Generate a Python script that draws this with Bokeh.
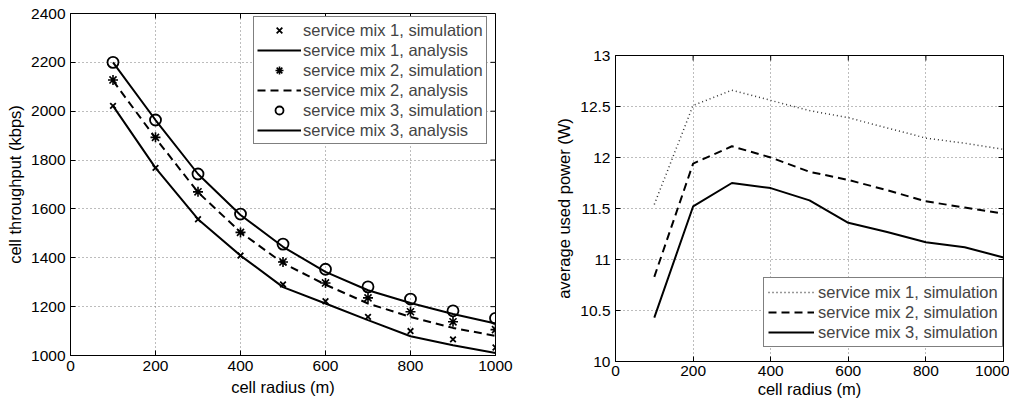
import math
from bokeh.plotting import figure
from bokeh.models import Legend, LegendItem, FixedTicker, Range1d, Spacer
from bokeh.layouts import row, column
from bokeh.embed import file_html
from bokeh.resources import INLINE

# ---------------- data ----------------
radius = [100, 200, 300, 400, 500, 600, 700, 800, 900, 1000]

# left panel: cell throughput (kbps)
sim_mix1 = [2022, 1768, 1558, 1409, 1291, 1222, 1158, 1100, 1066, 1033]
ana_mix1 = [2022, 1768, 1558, 1409, 1280, 1213, 1145, 1079, 1042, 1010]
sim_mix2 = [2128, 1893, 1670, 1504, 1383, 1297, 1236, 1179, 1138, 1106]
ana_mix2 = [2125, 1890, 1668, 1505, 1378, 1290, 1213, 1158, 1113, 1080]
sim_mix3 = [2200, 1964, 1743, 1579, 1456, 1353, 1281, 1231, 1183, 1152]
ana_mix3 = [2200, 1964, 1743, 1575, 1445, 1342, 1267, 1215, 1170, 1131]

# right panel: average used power (W)
pow_mix1 = [11.54, 12.51, 12.66, 12.56, 12.46, 12.39, 12.29, 12.19, 12.14, 12.08]
pow_mix2 = [10.83, 11.94, 12.11, 12.00, 11.86, 11.78, 11.68, 11.57, 11.51, 11.45]
pow_mix3 = [10.43, 11.52, 11.75, 11.70, 11.58, 11.36, 11.27, 11.17, 11.12, 11.02]

x_ticks = [0, 200, 400, 600, 800, 1000]
y_ticks_left = [1000, 1200, 1400, 1600, 1800, 2000, 2200, 2400]
y_ticks_right = [10, 10.5, 11, 11.5, 12, 12.5, 13]

legend_left = ["service mix 1, simulation", "service mix 1, analysis",
               "service mix 2, simulation", "service mix 2, analysis",
               "service mix 3, simulation", "service mix 3, analysis"]
legend_right = ["service mix 1, simulation", "service mix 2, simulation",
                "service mix 3, simulation"]

FONT = "Liberation Sans"
TICK_FS = "15.5px"
LABEL_FS = "16.5px"


def style(p, xt, yt, xlabel, ylabel, xstand=5, xlabstand=4):
    p.outline_line_color = "black"
    p.outline_line_width = 1
    p.background_fill_color = "white"
    p.border_fill_color = "white"
    for g in (p.xgrid[0], p.ygrid[0]):
        g.grid_line_color = "#7a7a7a"
        g.grid_line_dash = "1 3"
        g.grid_line_width = 1
    p.xgrid[0].ticker = FixedTicker(ticks=xt)
    p.ygrid[0].ticker = FixedTicker(ticks=yt)
    for ax, ticks, lab in ((p.xaxis[0], xt, xlabel), (p.yaxis[0], yt, ylabel)):
        ax.ticker = FixedTicker(ticks=ticks)
        ax.axis_label = lab
        ax.axis_label_text_font = FONT
        ax.axis_label_text_font_size = LABEL_FS
        ax.axis_label_text_font_style = "normal"
        ax.axis_label_text_color = "black"
        ax.major_label_text_font = FONT
        ax.major_label_text_font_size = TICK_FS
        ax.major_label_text_color = "black"
        ax.axis_line_color = "black"
        ax.major_tick_line_color = "black"
        ax.major_tick_in = 5
        ax.major_tick_out = 0
        ax.minor_tick_line_color = None
        ax.major_label_standoff = 5
        ax.axis_label_standoff = 4
    p.xaxis[0].major_label_standoff = xstand
    p.xaxis[0].axis_label_standoff = xlabstand
    # box ticks on the top and right edges (half of each dash is clipped by the frame)
    xmax = xt[-1]
    ymax = yt[-1]
    p.scatter(xt, [ymax] * len(xt), marker="dash", angle=math.pi / 2, size=10,
              line_color="black", line_width=1)
    p.scatter([xmax] * len(yt), yt, marker="dash", size=10,
              line_color="black", line_width=1)


# ---------------- left figure ----------------
p1 = figure(width=540, height=398, output_backend="svg", toolbar_location=None,
            x_range=Range1d(0, 1000), y_range=Range1d(1000, 2400),
            min_border_left=70, min_border_right=45, min_border_top=13, min_border_bottom=43)
style(p1, x_ticks, y_ticks_left, "cell radius (m)", "cell throughput (kbps)")

r_s1 = p1.scatter(radius, sim_mix1, marker="x", size=8, line_color="black", line_width=1.8)
r_a1 = p1.line(radius, ana_mix1, line_color="black", line_width=2)
r_s2 = p1.scatter(radius, sim_mix2, marker="asterisk", size=10, line_color="black", line_width=1.6)
r_a2 = p1.line(radius, ana_mix2, line_color="black", line_width=2, line_dash="8 5")
r_s3 = p1.scatter(radius, sim_mix3, marker="circle", size=11, line_color="black",
                  fill_color=None, line_width=1.8)
r_a3 = p1.line(radius, ana_mix3, line_color="black", line_width=2)

leg1 = Legend(items=[LegendItem(label=legend_left[i], renderers=[r])
                     for i, r in enumerate([r_s1, r_a1, r_s2, r_a2, r_s3, r_a3])],
              location=(183, 211), margin=0, padding=3, spacing=0,
              label_height=20, glyph_height=20, glyph_width=44, label_standoff=2,
              label_text_font=FONT, label_text_font_size=LABEL_FS,
              border_line_color="black", border_line_width=1,
              background_fill_color="white", background_fill_alpha=1)
p1.add_layout(leg1, "center")

# ---------------- right figure ----------------
p2 = figure(width=469, height=359, output_backend="svg", toolbar_location=None,
            x_range=Range1d(0, 1000), y_range=Range1d(10, 13),
            min_border_left=75, min_border_right=6, min_border_top=13, min_border_bottom=40)
style(p2, x_ticks, y_ticks_right, "cell radius (m)", "average used power (W)",
      xstand=4, xlabstand=1)

q1 = p2.line(radius, pow_mix1, line_color="#333333", line_width=1.5, line_dash="1 3")
q2 = p2.line(radius, pow_mix2, line_color="black", line_width=2, line_dash="8 5")
q3 = p2.line(radius, pow_mix3, line_color="black", line_width=2)

leg2 = Legend(items=[LegendItem(label=legend_right[i], renderers=[r])
                     for i, r in enumerate([q1, q2, q3])],
              location=(148, 14), margin=0, padding=4, spacing=0,
              label_height=20, glyph_height=20, glyph_width=46, label_standoff=4,
              label_text_font=FONT, label_text_font_size=LABEL_FS,
              border_line_color="black", border_line_width=1,
              background_fill_color="white", background_fill_alpha=1)
p2.add_layout(leg2, "center")

layout = row(p1, column(Spacer(width=469, height=42), p2))
open("out.html", "w").write(file_html(layout, INLINE))
